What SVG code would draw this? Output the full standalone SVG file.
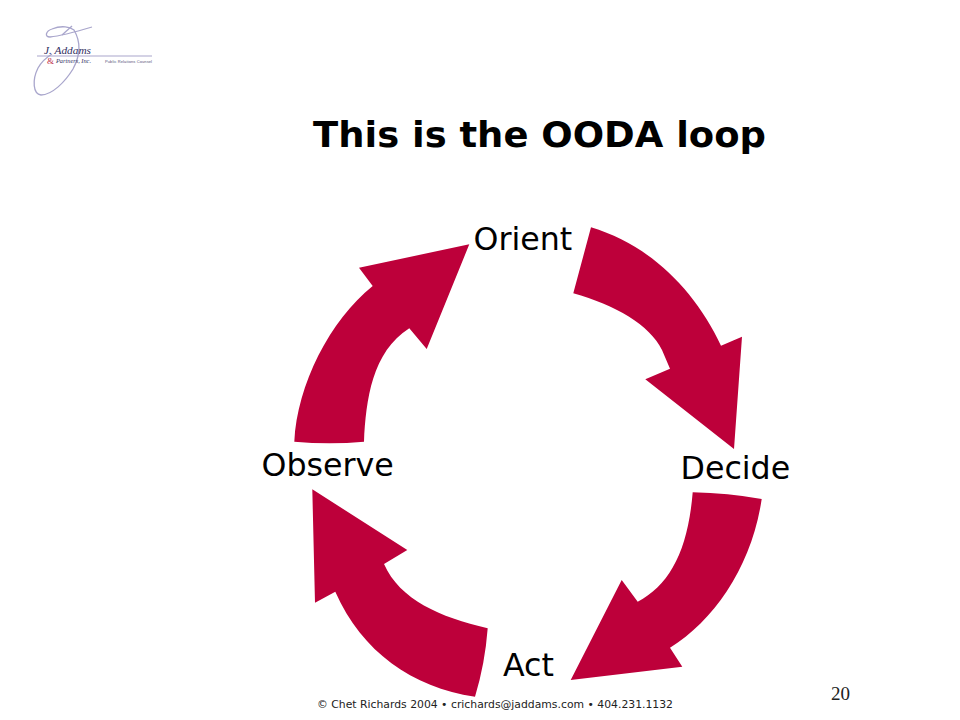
<svg xmlns="http://www.w3.org/2000/svg" width="960" height="720" viewBox="0 0 960 720">
<style>
.a{fill:#bd003a;stroke:none}
.l{font-family:"DejaVu Sans",Verdana,sans-serif;font-size:31.7px;fill:#000}
.s{fill:none;stroke:#a9a6cc;stroke-width:1.3}
.n{font-family:"Liberation Serif",serif;fill:#33305f;font-style:italic}
</style>
<rect width="960" height="720" fill="#fff"/>
<g id="logo">
<path class="s" d="M92 27C75 32 60 36 50 37C44 37 46 31 52 29C62 25 70 27 74 30C81 42 80 56 73 69C65 82 52 95 41 95C33 94 32 80 38 68C42 61 47 57 52 54"/>
<path class="s" d="M62 35L72 26"/>
<path d="M37 56H152" stroke="#a9a6cc" stroke-width="1.2" fill="none"/>
<text class="n" x="44" y="54" font-size="10" textLength="47" lengthAdjust="spacingAndGlyphs">J. Addams</text>
<text x="47" y="64" font-family="'Liberation Serif',serif" font-size="9" fill="#c0304a">&amp;</text>
<text class="n" x="56" y="63" font-size="7" textLength="35" lengthAdjust="spacingAndGlyphs">Partners, Inc.</text>
<text x="105" y="63" font-family="'Liberation Sans',sans-serif" font-size="4" fill="#55527a" textLength="47" lengthAdjust="spacing">Public Relations Counsel</text>
</g>
<g id="title"><text x="313" y="147" font-family="'DejaVu Sans',Verdana,sans-serif" font-weight="bold" font-size="36" textLength="453" lengthAdjust="spacingAndGlyphs">This is the OODA loop</text></g>
<g id="connectors">
<path class="a" d="M294.3 441.7Q330 445 364 441.7C366 400 372 352 409.3 328.3L426.7 349L469.3 244.3L359 267.7L372.7 286C330 320 297 385 294.3 441.7Z"/>
<path class="a" d="M591 227.3C650 245 695 290 721 345.7L742 336.7L734 449L645.3 379.3L670 368.7L662 350C650 325 615 305 573.3 293.3Z"/>
<path class="a" d="M692.7 492.3Q728 493 761.7 499C752 565 715 620 670 647.7L682.3 666.7L570.7 680L621.7 580L637.7 601.7C670 585 688 550 692.7 492.3Z"/>
<path class="a" d="M487.7 628.3Q485 664 475 696.7C412 687 362 652 335.3 591.7L315 602.7L312.3 489.3L407.3 550L384 564C400 600 440 617 487.7 628.3Z"/>
</g>
<g id="orient"><text class="l" x="473.5" y="250">Orient</text></g>
<g id="decide"><text class="l" x="680.5" y="479">Decide</text></g>
<g id="act"><text class="l" x="503" y="676">Act</text></g>
<g id="observe"><text class="l" x="261.5" y="476">Observe</text></g>
<g id="footer"><text x="317" y="708" font-family="'DejaVu Sans',Verdana,sans-serif" font-size="11" fill="#222" textLength="356" lengthAdjust="spacingAndGlyphs">© Chet Richards 2004 • crichards@jaddams.com • 404.231.1132</text></g>
<g id="page"><text x="831" y="700" font-family="'Liberation Serif',serif" font-size="19" fill="#222">20</text></g>
</svg>
